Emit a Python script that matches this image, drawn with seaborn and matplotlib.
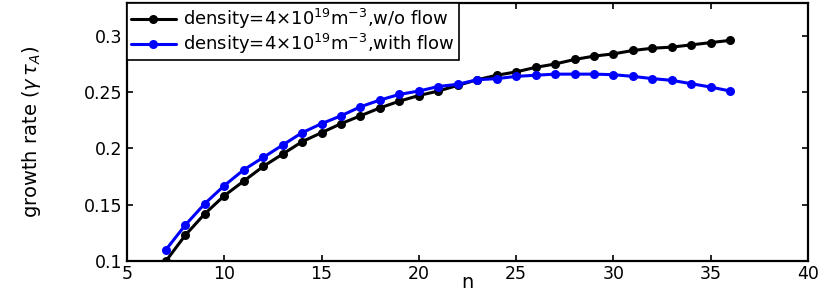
import pandas as pd
import matplotlib
matplotlib.use("Agg")
import matplotlib.pyplot as plt
import seaborn as sns

# toroidal mode number
n_modes = list(range(7, 37))

# growth rate, no flow (black)
gamma_no_flow = [0.100, 0.123, 0.142, 0.158, 0.171, 0.184, 0.195, 0.206, 0.214, 0.222,
                 0.229, 0.236, 0.242, 0.247, 0.251, 0.256, 0.261, 0.265, 0.268, 0.272,
                 0.275, 0.279, 0.282, 0.284, 0.287, 0.289, 0.290, 0.292, 0.294, 0.296]

# growth rate, with flow (blue)
gamma_flow = [0.110, 0.132, 0.151, 0.167, 0.181, 0.192, 0.203, 0.214, 0.222, 0.229,
              0.237, 0.243, 0.248, 0.251, 0.255, 0.257, 0.261, 0.262, 0.264, 0.265,
              0.266, 0.266, 0.266, 0.2655, 0.264, 0.262, 0.2605, 0.2575, 0.2545, 0.251]

labels = [r'density=4$\times$10$^{19}$m$^{-3}$,w/o flow',
          r'density=4$\times$10$^{19}$m$^{-3}$,with flow']

df = pd.DataFrame({
    'n': n_modes * 2,
    'gamma': gamma_no_flow + gamma_flow,
    'case': [labels[0]] * len(n_modes) + [labels[1]] * len(n_modes),
})

sns.set_style('ticks')
plt.rcParams['font.family'] = ['DejaVu Sans']
plt.rcParams['mathtext.fontset'] = 'dejavusans'
plt.rcParams['text.color'] = 'black'
plt.rcParams['axes.labelcolor'] = 'black'
plt.rcParams['xtick.color'] = 'black'
plt.rcParams['ytick.color'] = 'black'

fig = plt.figure(figsize=(8.3, 2.91), dpi=100)
ax = fig.add_axes([0.153, 0.103, 0.8205, 0.886])

sns.lineplot(data=df, x='n', y='gamma', hue='case', hue_order=labels,
             palette=['black', '#0000ff'], marker='o', markersize=6.5,
             markeredgewidth=0, linewidth=2.2, ax=ax)

ax.set_xlim(5, 40)
ax.set_ylim(0.1, 0.329)
ax.set_xticks([5, 10, 15, 20, 25, 30, 35, 40])
ax.set_yticks([0.1, 0.15, 0.2, 0.25, 0.3])
ax.set_yticklabels(['0.1', '0.15', '0.2', '0.25', '0.3'])
ax.tick_params(direction='in', length=4, width=1.2, top=True, right=True,
               labelsize=12.5, pad=3)
for s in ax.spines.values():
    s.set_linewidth(1.6)
    s.set_visible(True)
    s.set_color('black')

ax.set_xlabel('n', fontsize=14, labelpad=-7)
ax.set_ylabel(r'growth rate ($\gamma\,\tau_A$)', fontsize=14, labelpad=30)

leg = ax.legend(loc='upper left', fontsize=13, frameon=True, fancybox=False,
                borderaxespad=0, handlelength=2.5, borderpad=0.2,
                labelspacing=0.05, handletextpad=0.4)
leg.get_frame().set_edgecolor('black')
leg.get_frame().set_linewidth(1.2)
leg.get_frame().set_alpha(1)

fig.savefig('out.png', dpi=100)
